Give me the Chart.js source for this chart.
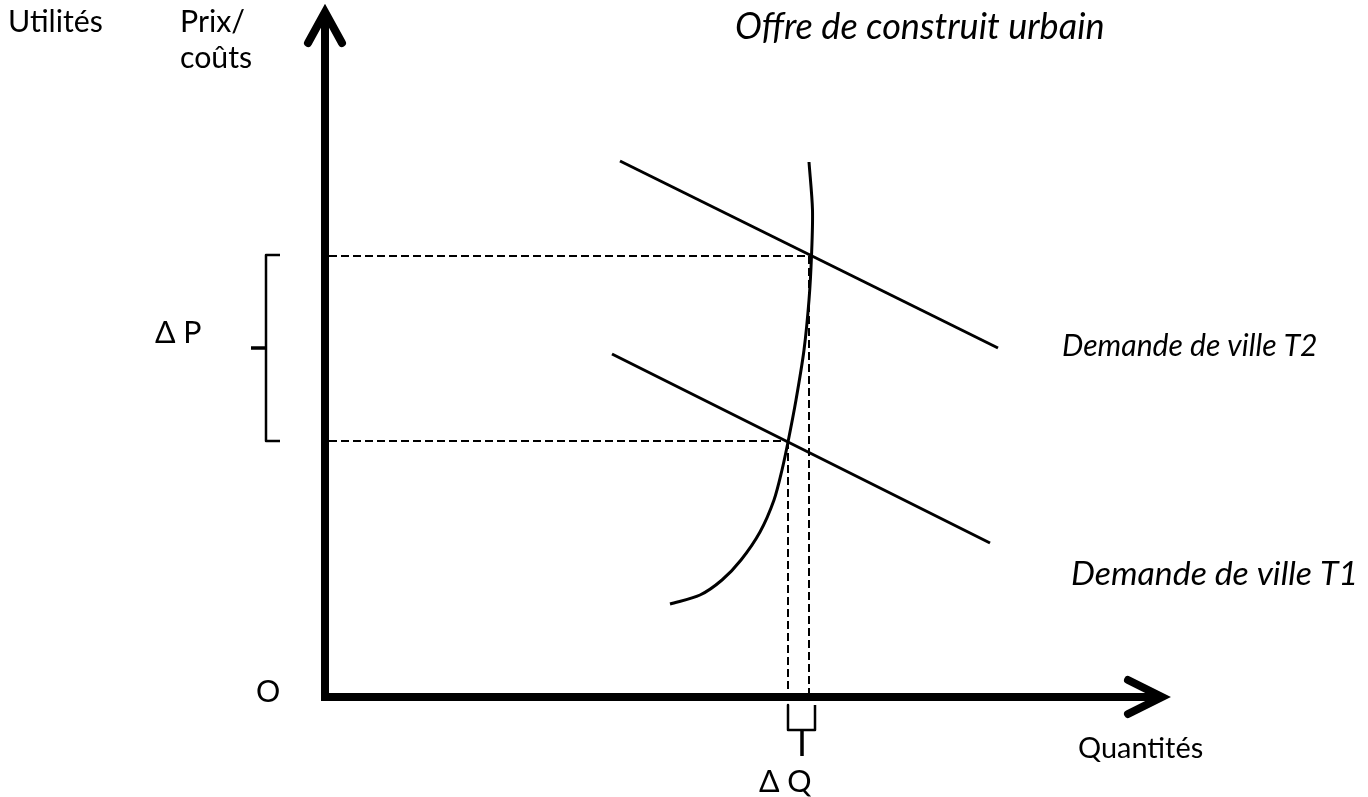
<!DOCTYPE html>
<html>
<head>
<meta charset="utf-8">
<script src="https://cdn.jsdelivr.net/npm/chart.js@4"></script>
<style>
  html, body { margin: 0; padding: 0; background: #fff; }
  canvas { display: block; }
</style>
</head>
<body>
<canvas id="marketChart" width="1368" height="797"></canvas>
<script>
// values in diagram units (origin O at the axes corner)
const axisYTop = 68.5;
const axisXEnd = 83.7;

const demandT2 = [
  { x: 29.5, y: 53.6 },
  { x: 67.3, y: 34.9 },
];
const demandT1 = [
  { x: 28.7, y: 34.3 },
  { x: 66.5, y: 15.4 },
];
const supplyCurve = [
  { x: 34.5, y: 9.3 },
  { x: 37.5, y: 10.2 },
  { x: 39.7, y: 11.7 },
  { x: 41.6, y: 13.7 },
  { x: 43.5, y: 16.5 },
  { x: 44.9, y: 19.7 },
  { x: 45.7, y: 22.7 },
  { x: 46.3, y: 25.5 },
  { x: 47.1, y: 29.7 },
  { x: 47.9, y: 34.7 },
  { x: 48.4, y: 39.7 },
  { x: 48.65, y: 44.1 },
  { x: 48.75, y: 48.7 },
  { x: 48.4, y: 53.5 },
];

// equilibrium points (Q, P) at T1 and T2
const eqQ = [46.3, 48.4];
const eqP = [25.6, 44.1];

// braces for delta P and delta Q
const braceP = [
  { x: -4.5, y: 44.2 },
  { x: -5.9, y: 44.2 },
  { x: -5.9, y: 25.6 },
  { x: -4.5, y: 25.6 },
];
const braceTickP = [
  { x: -7.4, y: 34.9 },
  { x: -5.9, y: 34.9 },
];
const braceQ = [
  { x: 46.3, y: -0.8 },
  { x: 46.3, y: -3.3 },
  { x: 49.0, y: -3.3 },
  { x: 49.0, y: -0.8 },
];
const braceStemQ = [
  { x: 47.7, y: -3.3 },
  { x: 47.7, y: -5.9 },
];

// w = width the text should fill, null = use the base size
const labels = [
  { text: "Utilités", x: 8, y: 32, w: 95, italic: false },
  { text: "Prix/", x: 180, y: 32, w: null, italic: false },
  { text: "coûts", x: 180, y: 68, w: null, italic: false },
  { text: "Offre de construit urbain", x: 735, y: 39, w: 370, italic: true },
  { text: "Δ P", x: 155, y: 343, w: null, italic: false },
  { text: "Demande de ville T2", x: 1062, y: 356, w: 256, italic: true },
  { text: "Demande de ville T1", x: 1071, y: 585, w: 287, italic: true },
  { text: "O", x: 256, y: 702, w: null, italic: false },
  { text: "Quantités", x: 1078, y: 758, w: 125, italic: false },
  { text: "Δ Q", x: 759, y: 792, w: null, italic: false },
];

const line = (data, width, extra) =>
  Object.assign(
    {
      data: data,
      showLine: true,
      borderColor: "#000",
      borderWidth: width,
      pointRadius: 0,
      fill: false,
      tension: 0,
    },
    extra || {}
  );

const dashed = (data) => line(data, 2, { borderDash: [8, 4] });

const textPlugin = {
  id: "textLabels",
  afterDraw: (chart) => {
    const ctx = chart.ctx;
    ctx.save();
    ctx.fillStyle = "#000";
    ctx.textBaseline = "alphabetic";
    ctx.font = "20px Lato";
    const baseSize = (20 * labels[0].w) / ctx.measureText(labels[0].text).width;
    labels.forEach((l) => {
      const style = l.italic ? "italic " : "";
      let size = baseSize;
      if (l.w) {
        ctx.font = style + "20px Lato";
        size = (20 * l.w) / ctx.measureText(l.text).width;
      }
      ctx.font = style + size.toFixed(1) + "px Lato";
      ctx.fillText(l.text, l.x, l.y);
    });
    ctx.restore();
  },
};

const ctx = document.getElementById("marketChart").getContext("2d");
new Chart(ctx, {
  type: "scatter",
  data: {
    datasets: [
      // axes with arrows
      line([{ x: 0, y: -0.4 }, { x: 0, y: axisYTop - 0.4 }], 8),
      line(
        [
          { x: -1.7, y: axisYTop - 3.1 },
          { x: 0, y: axisYTop },
          { x: 1.7, y: axisYTop - 3.1 },
        ],
        8,
        { borderCapStyle: "round", borderJoinStyle: "miter" }
      ),
      line([{ x: -0.4, y: 0 }, { x: axisXEnd - 0.4, y: 0 }], 8),
      line(
        [
          { x: axisXEnd - 3.4, y: 1.7 },
          { x: axisXEnd, y: 0 },
          { x: axisXEnd - 3.4, y: -1.7 },
        ],
        8,
        { borderCapStyle: "round", borderJoinStyle: "miter" }
      ),
      // demand and supply
      line(demandT2, 3),
      line(demandT1, 3),
      line(supplyCurve, 3, { tension: 0.3 }),
      // guides to the axes
      dashed([{ x: 0.4, y: eqP[1] }, { x: eqQ[1] + 0.3, y: eqP[1] }]),
      dashed([{ x: 0.4, y: eqP[0] }, { x: eqQ[0], y: eqP[0] }]),
      dashed([{ x: eqQ[0], y: eqP[0] }, { x: eqQ[0], y: 0 }]),
      dashed([{ x: eqQ[1], y: eqP[1] }, { x: eqQ[1], y: 0 }]),
      // braces
      line(braceP, 2.5, { borderJoinStyle: "round" }),
      line(braceTickP, 3.5),
      line(braceQ, 2.5, { borderJoinStyle: "round" }),
      line(braceStemQ, 3.5),
    ],
  },
  options: {
    responsive: false,
    animation: false,
    layout: { padding: 0 },
    plugins: {
      legend: { display: false },
      tooltip: { enabled: false },
    },
    scales: {
      x: { type: "linear", display: false, min: -32.5, max: 104.3 },
      y: { type: "linear", display: false, min: -10, max: 69.7 },
    },
  },
  plugins: [textPlugin],
});
</script>
</body>
</html>
